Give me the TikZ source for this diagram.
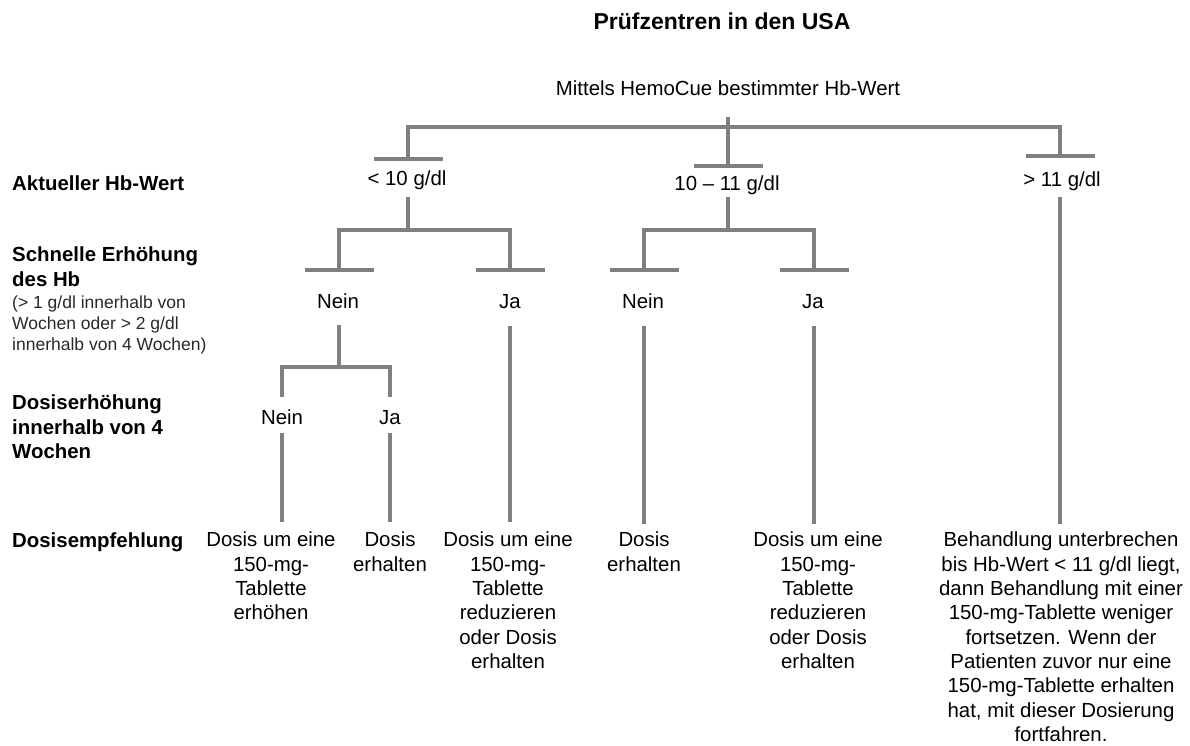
\documentclass[tikz,border=0pt]{standalone}
\usepackage{fontspec}
\setmainfont{Liberation Sans}
\definecolor{linegray}{RGB}{128,128,128}
\definecolor{smallgray}{RGB}{40,40,40}
\begin{document}
\begin{tikzpicture}[x=1pt,y=-1pt,
  lab/.style={font=\fontsize{20.4}{24.2}\selectfont, inner sep=0pt, anchor=base},
  blk/.style={font=\fontsize{20.4}{24.3}\selectfont, inner sep=0pt, anchor=north, align=center},
  side/.style={font=\bfseries\fontsize{20.4}{24.2}\selectfont, inner sep=0pt, anchor=north west, align=left},
  sidesmall/.style={font=\fontsize{17.5}{21}\selectfont, text=smallgray, inner sep=0pt, anchor=north west, align=left},
  ln/.style={draw=linegray, line width=3.5pt},
  bar/.style={ln, line cap=butt}]
\useasboundingbox (0,0) rectangle (1190,745);

% title and root
\node[font=\bfseries\fontsize{23}{27}\selectfont, inner sep=0pt, anchor=base] (title) at (722,29) {Prüfzentren in den USA};
\node[lab] (root) at (728,95) {Mittels HemoCue bestimmter Hb-Wert};

% side labels
\node[font=\bfseries\fontsize{20.4}{24.2}\selectfont, inner sep=0pt, anchor=base west] (s1) at (12,190) {Aktueller Hb-Wert};
\node[side] (s2) at (12,247) {Schnelle Erhöhung\\des Hb};
\node[sidesmall] (s2b) at (12,296) {(> 1 g/dl innerhalb von\\Wochen oder > 2 g/dl\\innerhalb von 4 Wochen)};
\node[side] (s3) at (12,395) {Dosiserhöhung\\innerhalb von 4\\Wochen};
\node[font=\bfseries\fontsize{20.4}{24.2}\selectfont, inner sep=0pt, anchor=base west] (s4) at (12,547) {Dosisempfehlung};

% level 1 labels
\node[lab] (a) at (407,185) {< 10 g/dl};
\node[lab] (b) at (727,190) {10 – 11 g/dl};
\node[lab] (c) at (1062,186) {> 11 g/dl};

% level 2 labels
\node[lab] (an) at (338,308) {Nein};
\node[lab] (aj) at (510,308) {Ja};
\node[lab] (bn) at (643,308) {Nein};
\node[lab] (bj) at (813,308) {Ja};

% level 3 labels
\node[lab] (ann) at (282,424) {Nein};
\node[lab] (anj) at (390,424) {Ja};

% recommendations
\node[blk] (r1) at (271,532) {Dosis um eine\\150-mg-\\Tablette\\erhöhen};
\node[blk] (r2) at (390,532) {Dosis\\erhalten};
\node[blk] (r3) at (508,532) {Dosis um eine\\150-mg-\\Tablette\\reduzieren\\oder Dosis\\erhalten};
\node[blk] (r4) at (644,532) {Dosis\\erhalten};
\node[blk] (r5) at (818,532) {Dosis um eine\\150-mg-\\Tablette\\reduzieren\\oder Dosis\\erhalten};
\node[blk] (r6) at (1061,532) {Behandlung unterbrechen\\bis Hb-Wert < 11 g/dl liegt,\\dann Behandlung mit einer\\150-mg-Tablette weniger\\fortsetzen. Wenn der\\Patienten zuvor nur eine\\150-mg-Tablette erhalten\\hat, mit dieser Dosierung\\fortfahren.};

% junction coordinates
\coordinate (rootstem) at (728,117);
\coordinate (bus) at (728,127);
\coordinate (ja) at (408,159);
\coordinate (jb) at (728,166);
\coordinate (jc) at (1060,156);

\coordinate (aout) at (408,197);
\coordinate (abus) at (408,230);
\coordinate (jan) at (339,270);
\coordinate (jaj) at (510,270);

\coordinate (bout) at (728,197);
\coordinate (bbus) at (728,230);
\coordinate (jbn) at (644,270);
\coordinate (jbj) at (814,270);

\coordinate (anout) at (339,325);
\coordinate (anbus) at (339,367);
\coordinate (jann) at (282,397);
\coordinate (janj) at (390,397);

\coordinate (annout) at (282,433);
\coordinate (anjout) at (390,433);
\coordinate (ajout) at (510,326);
\coordinate (bnout) at (644,326);
\coordinate (bjout) at (814,326);
\coordinate (cout) at (1060,197);

\coordinate (r1in) at (282,522);
\coordinate (r2in) at (390,522);
\coordinate (r3in) at (510,522);
\coordinate (r4in) at (644,524);
\coordinate (r5in) at (814,524);
\coordinate (r6in) at (1060,524);

% top level tree
\draw[ln] (rootstem) -- (bus);
\draw[ln] (ja) |- (bus) -| (jc);
\draw[ln] (bus) -- (jb);
\foreach \j in {ja,jb,jc,jan,jaj,jbn,jbj}
  \draw[bar] ([xshift=-34.5pt]\j) -- ([xshift=34.5pt]\j);

% second level
\draw[ln] (aout) -- (abus);
\draw[ln] (jan) |- (abus) -| (jaj);
\draw[ln] (bout) -- (bbus);
\draw[ln] (jbn) |- (bbus) -| (jbj);

% third level
\draw[ln] (anout) -- (anbus);
\draw[ln] (jann) |- (anbus) -| (janj);

% to recommendations
\draw[ln] (annout) -- (r1in);
\draw[ln] (anjout) -- (r2in);
\draw[ln] (ajout) -- (r3in);
\draw[ln] (bnout) -- (r4in);
\draw[ln] (bjout) -- (r5in);
\draw[ln] (cout) -- (r6in);
\end{tikzpicture}
\end{document}
